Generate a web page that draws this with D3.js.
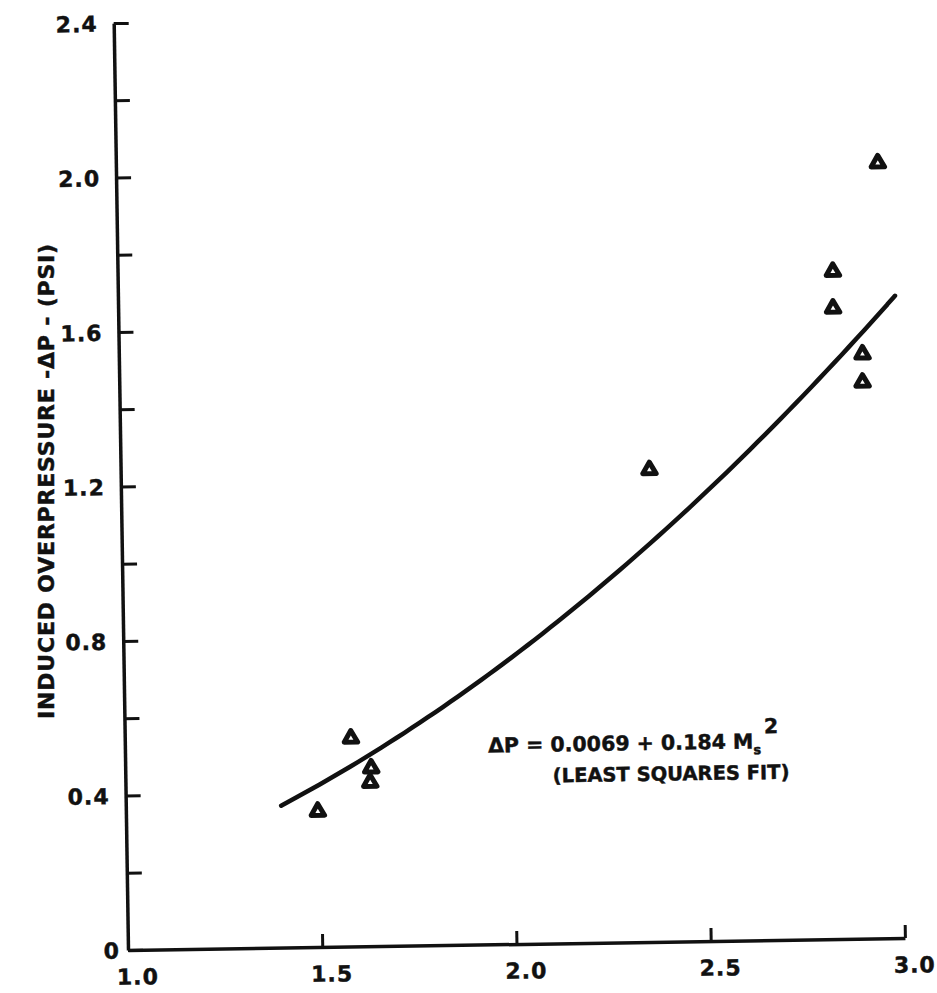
<!DOCTYPE html>
<html>
<head>
<meta charset="utf-8">
<script src="https://cdn.jsdelivr.net/npm/d3@7"></script>
<style>
  html, body { margin: 0; padding: 0; background: #ffffff; }
  svg { display: block; }
  text { font-family: "DejaVu Sans", sans-serif; font-weight: bold; fill: #111; stroke: #111; stroke-width: 0.45px; }
</style>
</head>
<body>
<svg id="chart" width="937" height="993"></svg>
<script>
// Shock Mach number vs. induced overpressure (measured points)
const machNumber = [1.494, 1.582, 1.633, 1.630, 2.361, 2.841, 2.840, 2.914, 2.913, 2.961];
const overpressure = [0.355, 0.543, 0.465, 0.428, 1.226, 1.732, 1.637, 1.517, 1.444, 2.011];

// Least squares fit: dP = a + b * Ms^2
const fitCoefficients = [0.0069, 0.184];
const fitRange = [1.4, 3.0];

// Axis ticks
const xTicks = [1.0, 1.5, 2.0, 2.5, 3.0];
const xTickLabels = ["1.0", "1.5", "2.0", "2.5", "3.0"];
const yTicks = [0, 0.2, 0.4, 0.6, 0.8, 1.0, 1.2, 1.4, 1.6, 1.8, 2.0, 2.2, 2.4];
const yTickLabels = ["0", "", "0.4", "", "0.8", "", "1.2", "", "1.6", "", "2.0", "", "2.4"];

const svg = d3.select("#chart");
const FONT = "'DejaVu Sans', sans-serif";

// Plot frame origin and size; the whole sheet sits slightly askew
const origin = { x: 128, y: 950 };
const plotW = 777, plotH = 927;

const g = svg.append("g")
  .attr("transform", `rotate(-0.885, ${origin.x}, ${origin.y}) translate(${origin.x}, ${origin.y - plotH})`);

const x = d3.scaleLinear().domain([1.0, 3.0]).range([0, plotW]);
const y = d3.scaleLinear().domain([0, 2.4]).range([plotH, 0]);

// Y axis: ticks point into the plot
const yAxis = d3.axisLeft(y)
  .tickValues(yTicks)
  .tickFormat((d, i) => yTickLabels[i])
  .tickSizeInner(-15)
  .tickSizeOuter(0)
  .tickPadding(16);

const yg = g.append("g").call(yAxis);
yg.select(".domain").attr("stroke", "#111").attr("stroke-width", 3.5);
yg.selectAll(".tick line").attr("stroke", "#111").attr("stroke-width", 3);
yg.selectAll(".tick text")
  .attr("font-size", 22)
  .attr("font-family", FONT)
  .attr("font-weight", "bold")
  .attr("letter-spacing", 1)
  .attr("fill", "#111")
  .attr("dy", "0.36em")
  .attr("x", d => d === 0 ? -8 : -16);

// X axis: ticks point up
const xAxis = d3.axisBottom(x)
  .tickValues(xTicks)
  .tickFormat((d, i) => xTickLabels[i])
  .tickSizeInner(-13)
  .tickSizeOuter(0)
  .tickPadding(19);

const xg = g.append("g").attr("transform", `translate(0, ${plotH})`).call(xAxis);
xg.select(".domain").attr("stroke", "#111").attr("stroke-width", 3.5);
xg.selectAll(".tick line").attr("stroke", "#111").attr("stroke-width", 3);
xg.selectAll(".tick text")
  .attr("font-size", 22)
  .attr("font-family", FONT)
  .attr("font-weight", "bold")
  .attr("letter-spacing", 1)
  .attr("fill", "#111")
  .attr("dx", 9);
xg.selectAll(".tick").filter(d => d === 1.0).select("line").remove();

// Fitted curve
const fit = m => fitCoefficients[0] + fitCoefficients[1] * m * m;
const curveX = d3.range(fitRange[0], fitRange[1] + 1e-9, 0.02);
const line = d3.line().x(m => x(m)).y(m => y(fit(m))).curve(d3.curveBasis);
g.append("path")
  .datum(curveX)
  .attr("d", line)
  .attr("fill", "none")
  .attr("stroke", "#111")
  .attr("stroke-width", 4.5)
  .attr("stroke-linecap", "round");

// Data points as open triangles
const tri = d3.symbol().type(d3.symbolTriangle).size(78);
g.selectAll("path.pt")
  .data(machNumber.map((m, i) => [m, overpressure[i]]))
  .join("path")
  .attr("class", "pt")
  .attr("d", tri)
  .attr("transform", d => `translate(${x(d[0])}, ${y(d[1]) + 1.5})`)
  .attr("fill", "#fff")
  .attr("stroke", "#111")
  .attr("stroke-width", 5)
  .attr("stroke-linejoin", "round");

// Equation annotation
const eq = g.append("text")
  .attr("x", x(1.935))
  .attr("y", y(0.497))
  .attr("font-size", 20.5);
eq.append("tspan").text("\u0394P = 0.0069 + 0.184 M");
eq.append("tspan").attr("font-size", 13).attr("dy", 6).text("s");
eq.append("tspan").attr("font-size", 20.5).attr("dy", -21).attr("dx", 3).text("2");

g.append("text")
  .attr("x", x(2.1))
  .attr("y", y(0.417))
  .attr("font-size", 19.5)
  .text("(LEAST SQUARES FIT)");

// Y axis title
svg.append("text")
  .attr("transform", "translate(54, 481) rotate(-90)")
  .attr("text-anchor", "middle")
  .attr("font-size", 22)
  .attr("letter-spacing", 0.8)
  .text("INDUCED OVERPRESSURE  -\u0394P - (PSI)");
</script>
</body>
</html>
